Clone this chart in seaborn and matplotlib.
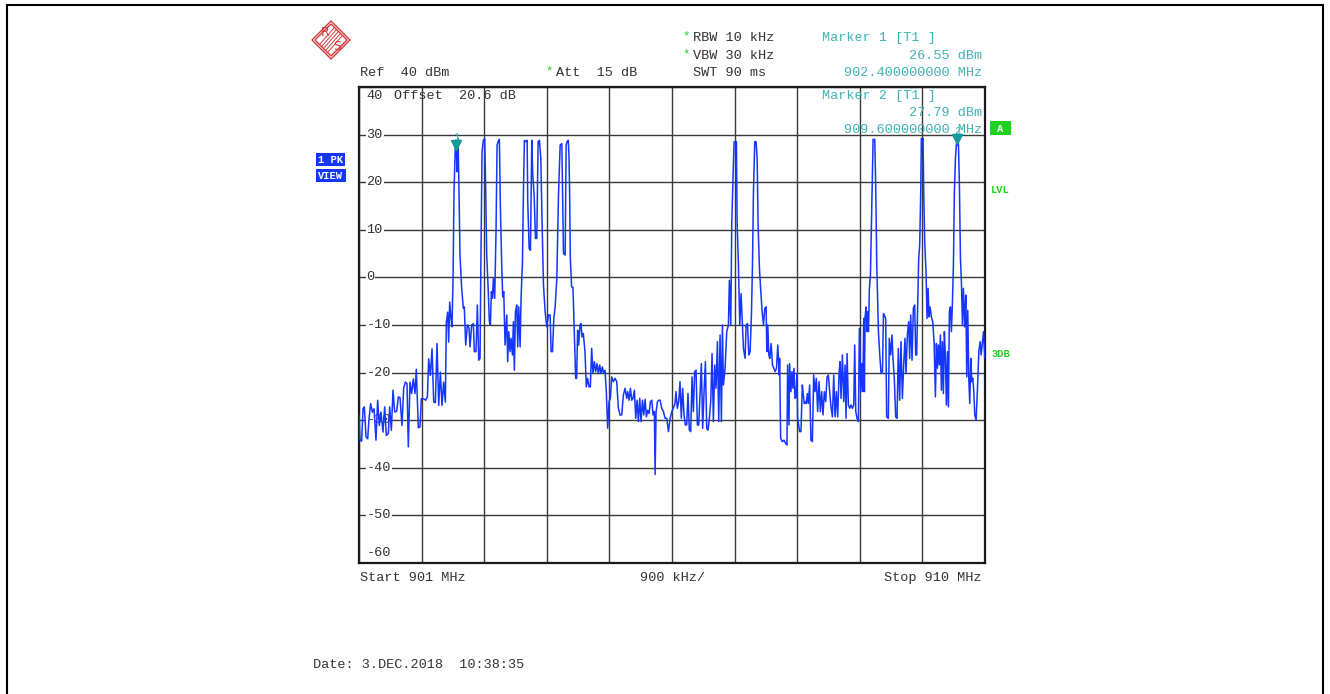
import numpy as np
import pandas as pd
import matplotlib
matplotlib.use("Agg")
import matplotlib.pyplot as plt
import matplotlib.transforms as mtrans
from matplotlib.patches import Polygon, Rectangle
import seaborn as sns

# trace (MHz, dBm)
freq_mhz = [
    901.000, 901.014, 901.038, 901.058, 901.077, 901.101, 901.125, 901.144, 901.168, 901.192,
    901.216, 901.244, 901.268, 901.292, 901.316, 901.345, 901.369, 901.393, 901.422, 901.441,
    901.465, 901.489, 901.513, 901.542, 901.566, 901.590, 901.618, 901.642, 901.666, 901.690,
    901.709, 901.733, 901.757, 901.781, 901.805, 901.824, 901.853, 901.877, 901.896, 901.930,
    901.959, 901.983, 902.002, 902.026, 902.050, 902.074, 902.098, 902.122, 902.146, 902.170,
    902.193, 902.217, 902.241, 902.256, 902.275, 902.289, 902.304, 902.323, 902.337, 902.352,
    902.366, 902.385, 902.400, 902.409, 902.424, 902.438, 902.452,
    902.476, 902.500, 902.514, 902.534, 902.558, 902.582, 902.596, 902.620, 902.644, 902.658,
    902.682, 902.702, 902.721, 902.740, 902.754, 902.769, 902.788, 902.807, 902.822, 902.836,
    902.855, 902.874, 902.889, 902.903, 902.918, 902.932, 902.951, 902.970, 902.985, 902.999,
    903.018, 903.033, 903.052, 903.066, 903.081, 903.100, 903.124, 903.138, 903.153, 903.172,
    903.186, 903.206, 903.220, 903.234, 903.249, 903.268, 903.282, 903.297, 903.316, 903.330,
    903.350, 903.364, 903.378, 903.398, 903.417, 903.426, 903.446, 903.465, 903.484, 903.498,
    903.518, 903.537, 903.556, 903.575, 903.594, 903.614, 903.633, 903.652, 903.676, 903.700,
    903.724, 903.748, 903.762, 903.782, 903.801, 903.820, 903.844, 903.868, 903.892, 903.916,
    903.940, 903.964, 903.978, 903.992, 904.009, 904.019,
    904.028, 904.038, 904.057, 904.076, 904.095, 904.115, 904.129, 904.143, 904.158, 904.177,
    904.191, 904.206, 904.225, 904.249, 904.268, 904.287, 904.307, 904.326, 904.345, 904.364,
    904.383, 904.403, 904.422, 904.441, 904.460, 904.479, 904.499, 904.518, 904.537, 904.556,
    904.575, 904.595, 904.614, 904.633, 904.657, 904.681, 904.705, 904.729, 904.753, 904.777,
    904.801, 904.825, 904.849, 904.863, 904.883, 904.902, 904.921, 904.940, 904.959, 904.979,
    904.998, 905.017, 905.036, 905.055, 905.075, 905.094, 905.113, 905.132, 905.151, 905.171,
    905.190, 905.209, 905.228, 905.247, 905.257, 905.271, 905.291, 905.310, 905.329, 905.353,
    905.377, 905.401, 905.425, 905.449, 905.473, 905.497,
    905.519, 905.543, 905.557, 905.577, 905.596, 905.615, 905.634, 905.653, 905.673, 905.692,
    905.711, 905.730, 905.749, 905.769, 905.788, 905.807, 905.826, 905.845, 905.865, 905.884,
    905.903, 905.922, 905.941, 905.961, 905.980, 905.999, 906.018, 906.037, 906.057, 906.076,
    906.095, 906.114, 906.133, 906.153, 906.172, 906.191, 906.210, 906.225, 906.239, 906.263,
    906.287, 906.311, 906.325, 906.345, 906.359, 906.378, 906.393, 906.412, 906.426, 906.436,
    906.455, 906.474, 906.493, 906.508, 906.527, 906.551, 906.565, 906.585, 906.604, 906.623,
    906.642, 906.657, 906.671, 906.690, 906.709, 906.724, 906.738, 906.757, 906.777, 906.796,
    906.815, 906.834, 906.853, 906.863, 906.877, 906.892, 906.906, 906.925, 906.945, 906.964,
    906.983, 907.002, 907.021, 907.041,
    907.047, 907.062, 907.086, 907.110, 907.134, 907.153, 907.162, 907.182, 907.191, 907.210,
    907.225, 907.239, 907.254, 907.268, 907.282, 907.297, 907.306, 907.321, 907.335, 907.354,
    907.374, 907.388, 907.402, 907.417, 907.431, 907.446, 907.460, 907.479, 907.498, 907.518,
    907.537, 907.556, 907.575, 907.594, 907.614, 907.633, 907.652, 907.671, 907.690, 907.710,
    907.729, 907.748, 907.767, 907.786, 907.806, 907.825, 907.844, 907.863, 907.882, 907.902,
    907.916, 907.930, 907.950, 907.969, 907.988, 908.002, 908.017, 908.036, 908.055, 908.074,
    908.094, 908.113, 908.127, 908.142, 908.161, 908.180, 908.194, 908.214, 908.228, 908.242,
    908.257, 908.266, 908.276, 908.290, 908.305, 908.314, 908.324, 908.338, 908.353, 908.367,
    908.382, 908.391, 908.415, 908.430, 908.444, 908.468, 908.487, 908.506, 908.526, 908.540,
    908.552, 908.572, 908.586, 908.610, 908.624, 908.644, 908.663, 908.677, 908.696, 908.716,
    908.735, 908.754, 908.773, 908.792, 908.812, 908.831, 908.850, 908.864, 908.884, 908.903,
    908.917, 908.932, 908.951, 908.970, 908.989, 909.004, 909.018, 909.032, 909.047, 909.061,
    909.076, 909.085, 909.100, 909.109, 909.119, 909.133, 909.152, 909.167, 909.181, 909.196,
    909.210, 909.229, 909.248, 909.268, 909.287, 909.301, 909.316, 909.330, 909.344, 909.359,
    909.373, 909.388, 909.402, 909.416, 909.431, 909.445, 909.460, 909.474, 909.488, 909.503,
    909.517, 909.532, 909.546, 909.560, 909.575, 909.589, 909.604, 909.618, 909.632, 909.647,
    909.661, 909.676, 909.690, 909.709, 909.724, 909.738, 909.752, 909.767, 909.781, 909.796,
    909.810, 909.824, 909.839, 909.853, 909.872, 909.892, 909.911, 909.930, 909.944, 909.959,
    909.978, 909.997,
]
level_dbm = [
    -29.0, -34.2, -34.4, -27.6, -27.2, -33.5, -33.9, -29.7, -26.5, -28.3,
    -27.6, -34.2, -25.8, -31.1, -28.3, -32.5, -27.2, -33.2, -32.8, -27.2,
    -32.1, -23.7, -28.3, -28.1, -25.1, -25.3, -31.1, -23.3, -22.0, -22.3,
    -35.6, -22.0, -24.4, -21.3, -24.4, -19.3, -31.6, -31.4, -25.5, -25.5,
    -25.8, -25.1, -17.1, -20.6, -15.0, -26.2, -26.3, -13.9, -26.9, -19.9,
    -26.9, -22.0, -26.2, -9.4, -7.3, -13.6, -5.2, -8.7, -10.4, -0.3,
    18.0, 27.8, 26.6, 22.2, 29.2, 18.0, 4.6,
    -2.3, -6.5, -6.2, -14.2, -10.0, -10.7, -14.6, -10.0, -9.7, -15.6,
    -15.6, -5.8, -17.4, -17.0, 5.4, 26.4, 28.8, 29.2, 18.0, 4.7,
    -1.6, -9.3, -10.0, -3.0, -4.4, -0.2, -4.4, 9.6, 27.8, 28.5,
    29.0, 14.5, 2.6, -4.1, -3.0, -14.2, -7.9, -17.7, -11.4, -15.6,
    -12.8, -16.3, -9.3, -19.5, -7.2, -5.8, -14.6, -6.2, -14.6, -4.4,
    3.3, 18.0, 28.8, 28.5, 28.8, 15.9, 6.1, 5.7, 28.8, 21.5,
    17.3, 8.2, 8.2, 28.5, 28.8, 25.0, 11.0, -1.6, -7.2, -10.4,
    -7.9, -7.9, -15.6, -15.6, -8.6, -6.2, -0.2, 17.3, 27.8, 28.1,
    5.0, 4.7, 27.8, 28.5, 28.8, 25.3,
    18.0, 4.0, -2.0, -2.1, -11.4, -21.2, -21.2, -11.1, -14.2, -10.0,
    -9.7, -12.5, -11.8, -15.6, -23.0, -21.2, -23.0, -23.0, -14.9, -20.2,
    -17.7, -19.8, -18.1, -20.2, -18.4, -20.2, -18.8, -20.2, -19.5, -24.0,
    -31.7, -26.1, -25.4, -20.9, -21.9, -21.2, -21.9, -27.5, -28.9, -28.9,
    -24.7, -23.3, -25.4, -24.0, -25.8, -23.3, -25.8, -25.4, -23.7, -29.6,
    -25.8, -30.3, -25.4, -30.3, -25.8, -28.9, -25.6, -29.3, -27.9, -28.6,
    -26.1, -25.8, -28.9, -28.2, -41.4, -28.2, -26.1, -25.8, -25.8, -27.5,
    -28.2, -29.6, -29.6, -32.4, -29.6, -28.2,
    -27.5, -26.5, -24.0, -27.5, -26.1, -21.9, -29.6, -23.3, -28.9, -31.0,
    -31.0, -24.4, -32.1, -32.4, -20.9, -28.2, -19.8, -19.5, -31.0, -31.0,
    -24.7, -18.1, -31.7, -24.0, -17.7, -31.7, -32.1, -29.6, -26.1, -16.0,
    -30.3, -18.4, -23.3, -13.5, -30.3, -12.1, -30.3, -10.0, -22.6, -19.1,
    -11.4, -10.0, -0.6, -10.0, 11.0, 21.5, 28.5, 28.5, 28.5, 11.7,
    2.6, -10.0, -3.4, -8.6, -14.9, -17.0, -10.0, -9.7, -16.3, -15.6,
    -7.9, 2.6, 18.0, 28.5, 28.5, 25.0, 11.0, 1.9, -3.0, -7.2,
    -10.0, -6.5, -6.2, -15.6, -10.0, -16.3, -17.0, -13.9, -18.4, -19.1,
    -19.8, -19.1, -14.2, -20.5,
    -17.0, -33.8, -34.5, -34.2, -34.9, -35.2, -18.4, -31.0, -18.1, -24.0,
    -19.8, -23.3, -19.1, -25.4, -25.1, -20.2, -29.6, -31.0, -32.4, -32.4,
    -22.6, -24.7, -26.5, -26.1, -26.5, -24.4, -26.5, -22.6, -34.2, -34.5,
    -20.5, -24.0, -21.2, -28.2, -21.9, -28.2, -24.0, -28.9, -24.0, -26.1,
    -20.9, -20.5, -24.0, -27.2, -29.3, -20.5, -29.3, -24.0, -29.3, -20.2,
    -17.7, -25.4, -16.3, -26.1, -18.4, -29.6, -16.0, -26.8, -27.5, -26.8,
    -27.5, -26.8, -14.2, -28.2, -29.6, -30.3, -10.7, -24.0, -18.1, -24.0,
    -8.6, -24.0, -8.3, -6.2, -11.4, -7.2, -11.4, -2.3, 0.5, 11.0,
    21.5, 29.0, 29.0, 18.0, 2.6, -11.4, -16.3, -20.2, -19.8, -7.6,
    -7.9, -8.6, -29.3, -29.6, -12.8, -16.3, -12.1, -17.0, -21.2, -29.3,
    -29.6, -14.9, -25.8, -13.5, -25.4, -18.4, -12.8, -20.2, -12.1, -9.3,
    -17.0, -7.9, -17.4, -6.5, -5.8, -16.3, -16.3, -5.8, 4.0, 6.8,
    18.0, 29.2, 28.8, 29.2, 18.0, 7.5, 1.2, -8.6, -2.3, -8.3,
    -6.2, -8.3, -9.3, -13.5, -25.1, -13.9, -19.1, -14.2, -18.4, -12.1,
    -23.7, -13.5, -24.4, -11.4, -17.0, -26.8, -15.6, -27.2, -7.2, -6.2,
    -11.4, -5.1, 2.6, 18.0, 25.0, 28.1, 27.8, 28.1, 19.4, 4.0,
    -0.9, -10.0, -2.3, -10.4, -3.7, -20.9, -6.9, -21.2, -26.5, -17.0,
    -21.9, -21.2, -24.0, -28.9, -30.0, -23.3, -15.6, -13.5, -16.3, -14.2,
    -11.4, -17.0,
]

marker_freq = [902.4, 909.6]
marker_level = [26.55, 27.79]
marker_names = ["1", "2"]

x_ticks = [901.0 + 0.9 * k for k in range(11)]
y_ticks = [40, 30, 20, 10, 0, -10, -20, -30, -40, -50, -60]

W, H = 1330, 694
MONO = ["Liberation Mono", "DejaVu Sans Mono"]
TXT = "#333333"
TEAL = "#3fb3b3"
GREEN = "#1fd21f"
BLUE = "#1436ff"
FS = 9.7

sns.set_style("white")
plt.rcParams["font.family"] = MONO


def px(x, y):
    return x / W, 1 - y / H


df = pd.DataFrame({"freq": freq_mhz, "level": level_dbm})

fig = plt.figure(figsize=(W / 100, H / 100), dpi=100)
ax = fig.add_axes([359 / W, 1 - 563 / H, 626 / W, 476 / H])

sns.lineplot(data=df, x="freq", y="level", ax=ax, color=BLUE, lw=1.1,
             estimator=None, sort=False, zorder=3)

ax.set_xlim(901, 910)
ax.set_ylim(-60, 40)
ax.set_xticks(x_ticks)
ax.set_yticks(y_ticks)
ax.set_xticklabels([])
ax.set_yticklabels([])
ax.tick_params(length=0)
ax.set_xlabel("")
ax.set_ylabel("")
ax.set_axisbelow(True)
ax.grid(True, color="#3a3a3a", lw=1.0)
for s in ax.spines.values():
    s.set_color("#1a1a1a")
    s.set_linewidth(1.6)

# level labels inside the grid
ytrans = mtrans.blended_transform_factory(ax.transAxes, ax.transData)
for v in y_ticks:
    dy = 0
    if v == 40:
        dy = -9
    elif v == -60:
        dy = 10
    t = mtrans.offset_copy(ytrans, fig=fig, y=dy, units="dots")
    ax.text(0.012, v, str(v), transform=t, ha="left", va="center",
            fontsize=FS, color=TXT, zorder=1.5,
            bbox=dict(fc="white", ec="none", pad=0.6))
fig.text(*px(394, 96), "Offset  20.6 dB", ha="left", va="center",
         fontsize=FS, color=TXT)

# markers
for f, lv, name in zip(marker_freq, marker_level, marker_names):
    t = mtrans.offset_copy(ax.transData, fig=fig, y=6, units="dots")
    ax.plot([f], [lv], marker="v", color="#169a98", ms=7, transform=t,
            zorder=4, clip_on=False)
    t2 = mtrans.offset_copy(ax.transData, fig=fig, y=14, units="dots")
    ax.text(f, lv, name, transform=t2, ha="center", va="center",
            fontsize=7.5, color=TEAL, zorder=4)

# header texts
fig.text(*px(360, 73), "Ref  40 dBm", ha="left", va="center", fontsize=FS, color=TXT)
fig.text(*px(549, 71), "*", ha="center", va="center", fontsize=9, color=GREEN)
fig.text(*px(556, 73), "Att  15 dB", ha="left", va="center", fontsize=FS, color=TXT)
fig.text(*px(686, 36), "*", ha="center", va="center", fontsize=9, color=GREEN)
fig.text(*px(693, 38), "RBW 10 kHz", ha="left", va="center", fontsize=FS, color=TXT)
fig.text(*px(686, 54), "*", ha="center", va="center", fontsize=9, color=GREEN)
fig.text(*px(693, 56), "VBW 30 kHz", ha="left", va="center", fontsize=FS, color=TXT)
fig.text(*px(693, 73), "SWT 90 ms", ha="left", va="center", fontsize=FS, color=TXT)

fig.text(*px(822, 38), "Marker 1 [T1 ]", ha="left", va="center", fontsize=FS, color=TEAL)
fig.text(*px(982, 56), "26.55 dBm", ha="right", va="center", fontsize=FS, color=TEAL)
fig.text(*px(982, 73), "902.400000000 MHz", ha="right", va="center", fontsize=FS, color=TEAL)
fig.text(*px(822, 96), "Marker 2 [T1 ]", ha="left", va="center", fontsize=FS, color=TEAL)
fig.text(*px(982, 113), "27.79 dBm", ha="right", va="center", fontsize=FS, color=TEAL)
fig.text(*px(982, 130), "909.600000000 MHz", ha="right", va="center", fontsize=FS, color=TEAL)

# bottom texts
fig.text(*px(360, 578), "Start 901 MHz", ha="left", va="center", fontsize=FS, color=TXT)
fig.text(*px(672, 578), "900 kHz/", ha="center", va="center", fontsize=FS, color=TXT)
fig.text(*px(982, 578), "Stop 910 MHz", ha="right", va="center", fontsize=FS, color=TXT)
fig.text(*px(313, 665), "Date: 3.DEC.2018  10:38:35", ha="left", va="center",
         fontsize=FS, color=TXT)

# side boxes
for (x0, y0, x1, y1, label, col) in [(316, 153, 345, 166, "1 PK", BLUE),
                                      (316, 169, 346, 182, "VIEW", BLUE),
                                      (990, 121, 1011, 135, "A", GREEN)]:
    fig.add_artist(Rectangle(px(x0, y1), (x1 - x0) / W, (y1 - y0) / H,
                             transform=fig.transFigure, fc=col, ec="none"))
    fig.text(*px(x0 + 2 if label != "A" else (x0 + x1) / 2, (y0 + y1) / 2 + 0.5), label,
             ha="left" if label != "A" else "center", va="center",
             fontsize=7.5, color="white", fontweight="bold")
fig.text(*px(991, 190), "LVL", ha="left", va="center", fontsize=7.5,
         color=GREEN, fontweight="bold")
fig.text(*px(991, 354), "3DB", ha="left", va="center", fontsize=7.5,
         color=GREEN, fontweight="bold")

# R&S logo
red = "#d23a3a"
for r in (19, 16):
    fig.add_artist(Polygon([px(331 - r, 40), px(331, 40 - r), px(331 + r, 40), px(331, 40 + r)],
                           closed=True, transform=fig.transFigure, fill=False,
                           ec=red, lw=1.0))
for k in range(-2, 3):
    a = px(324 + 2 * k, 48 + 2 * k)
    b = px(338 + 2 * k, 32 + 2 * k)
    fig.add_artist(plt.Line2D([a[0], b[0]], [a[1], b[1]], transform=fig.transFigure,
                              color=red, lw=0.7))
fig.text(*px(325, 33), "R", ha="center", va="center", fontsize=9, color=red,
         family=["DejaVu Sans"])
fig.text(*px(337, 47), "S", ha="center", va="center", fontsize=9, color=red,
         family=["DejaVu Sans"])

# outer frame
fig.add_artist(Rectangle(px(7, 700), 1316 / W, 695 / H, transform=fig.transFigure,
                         fill=False, ec="black", lw=1.5))

fig.savefig("out.png", dpi=100, facecolor="white")
